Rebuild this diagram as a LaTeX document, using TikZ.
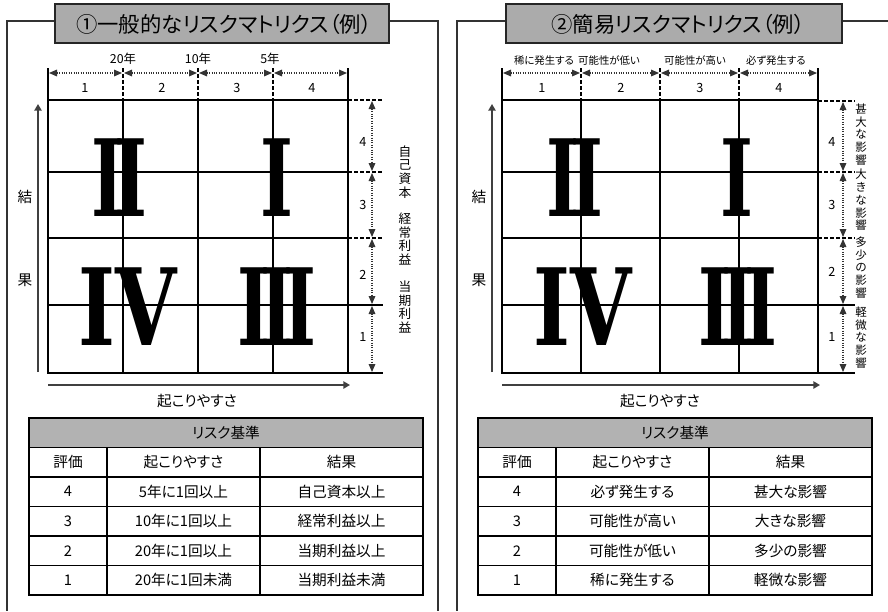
\documentclass[tikz,border=0pt]{standalone}
\usepackage{fontspec}
\setmainfont{Noto Sans CJK JP}[RawFeature=+palt]
\newfontfamily\rnfont{DejaVu Serif}
\usetikzlibrary{arrows.meta}
\newcommand\rnum[2]{\scalebox{#1}[1]{\rnfont\bfseries\fontsize{80}{80}\selectfont #2}}
\newcommand\fs[2]{\fontsize{#1}{#2}\selectfont}
\newcommand\tightlines{\lineskiplimit=-20pt\lineskip=0pt}
\begin{document}
\begin{tikzpicture}[x=0.75pt,y=-0.75pt,
  frame/.style={line width=1.2pt, black!80},
  titlebox/.style={draw=black!85, line width=1.4pt, fill=gray!66},
  heavyline/.style={line width=2.1pt},
  gridline/.style={line width=0.95pt},
  dashtick/.style={line width=1.3pt, dash pattern=on 3pt off 1.5pt},
  extline/.style={line width=0.95pt},
  dimarrow/.style={densely dotted, line width=0.8pt, black!80,
     {Triangle[length=6pt,width=5pt]}-{Triangle[length=6pt,width=5pt]}},
  axisline/.style={line width=1.1pt, black!75, -{Triangle[length=5pt,width=5.5pt]}},
  titletext/.style={font=\fs{16}{18}},
  lbl/.style={font=\fs{11}{13}, inner sep=0pt},
  num/.style={font=\fs{9.5}{11}, inner sep=0pt},
  yr/.style={font=\fs{9.3}{10}, inner sep=0pt},
  small/.style={font=\fs{7.8}{9}, inner sep=0pt},
  vlabA/.style={font=\fs{9.5}{10.4}\tightlines, align=center, inner sep=0pt},
  vlabB/.style={font=\fs{8.6}{9.6}\tightlines, align=center, inner sep=0pt},
  roman/.style={inner sep=0pt},
  tborder/.style={line width=1.6pt},
  tinner/.style={line width=1.1pt},
  theadfill/.style={fill=gray!60},
  cell/.style={font=\fs{11}{13}, inner sep=0pt}
]
\useasboundingbox (0,0) rectangle (888,611);

% ================= LEFT PANEL =================
\draw[frame] (55,21) -- (7,21) -- (7,611);
\draw[frame] (389,21) -- (438,21) -- (438,611);
\draw[titlebox] (55,4) rectangle (389,43);
\node[titletext] (t1) at (224,24) {①一般的なリスクマトリクス（例）};

% matrix
\draw[gridline] (123,100) -- (123,373) (198,100) -- (198,373) (273,100) -- (273,373);
\draw[gridline] (48,172) -- (348,172) (48,238) -- (348,238) (48,305) -- (348,305);
\draw[heavyline] (48,68) -- (48,373) -- (348,373) -- (348,68);
\draw[heavyline] (48,100) -- (348,100);
\draw[dashtick] (123,68) -- (123,100) (198,68) -- (198,100) (273,68) -- (273,100);
\draw[dashtick] (348,100) -- (383,100) (348,172) -- (383,172) (348,238) -- (383,238);
\draw[extline] (348,305) -- (383,305) (348,373) -- (383,373);
% dimension arrows
\draw[dimarrow] (49,73) -- (122,73);
\draw[dimarrow] (124,73) -- (197,73);
\draw[dimarrow] (199,73) -- (272,73);
\draw[dimarrow] (274,73) -- (347,73);
\draw[dimarrow] (372,101) -- (372,171);
\draw[dimarrow] (372,173) -- (372,237);
\draw[dimarrow] (372,239) -- (372,304);
\draw[dimarrow] (372,306) -- (372,372);
% labels
\node[yr] (ya) at (123,59) {20年};
\node[yr] (yb) at (198,59) {10年};
\node[yr] (yc) at (270,59) {5年};
\node[num] (ha1) at (85,88) {1};
\node[num] (ha2) at (162,88) {2};
\node[num] (ha3) at (237,88) {3};
\node[num] (ha4) at (312,88) {4};
\node[num] (va4) at (363,142) {4};
\node[num] (va3) at (363,205) {3};
\node[num] (va2) at (363,275) {2};
\node[num] (va1) at (363,337) {1};
\node[vlabA] (ra) at (405,172) {自\\己\\資\\本};
\node[vlabA] (rb) at (405,239) {経\\常\\利\\益};
\node[vlabA] (rc) at (405,307) {当\\期\\利\\益};
% axes
\draw[axisline] (38,372) -- (38,104);
\draw[axisline] (48,385) -- (350,385);
\node[lbl] (ka) at (25,197) {結};
\node[lbl] (kb) at (25,280) {果};
\node[lbl] (oa) at (197,401) {起こりやすさ};
% roman numerals
\node[roman] (n2a) at (119.5,178) {\rnum{0.66}{I\kern-11pt I}};
\node[roman] (n1a) at (277,178) {\rnum{0.66}{I}};
\node[roman] (n4a) at (127.5,307) {\rnum{0.74}{IV}};
\node[roman] (n3a) at (277,307) {\rnum{0.66}{I\kern-11pt I\kern-11pt I}};

% table left
\fill[theadfill] (29,418) rectangle (423,447.5);
\draw[tinner] (29,447.5) -- (423,447.5) (29,477) -- (423,477) (29,506.5) -- (423,506.5)
  (29,536) -- (423,536) (29,565.5) -- (423,565.5);
\draw[tinner] (107,447.5) -- (107,595) (260,447.5) -- (260,595);
\draw[tborder] (29,418) rectangle (423,595);
\node[cell] (lh) at (226,432.75) {リスク基準};
\node[cell] (lc1) at (68,462.25) {評価};
\node[cell] (lc2) at (183.5,462.25) {起こりやすさ};
\node[cell] (lc3) at (341.5,462.25) {結果};
\node[cell] (l41) at (68,491.75) {4};
\node[cell] (l42) at (183.5,491.75) {5年に1回以上};
\node[cell] (l43) at (341.5,491.75) {自己資本以上};
\node[cell] (l31) at (68,521.25) {3};
\node[cell] (l32) at (183.5,521.25) {10年に1回以上};
\node[cell] (l33) at (341.5,521.25) {経常利益以上};
\node[cell] (l21) at (68,550.75) {2};
\node[cell] (l22) at (183.5,550.75) {20年に1回以上};
\node[cell] (l23) at (341.5,550.75) {当期利益以上};
\node[cell] (l11) at (68,580.25) {1};
\node[cell] (l12) at (183.5,580.25) {20年に1回未満};
\node[cell] (l13) at (341.5,580.25) {当期利益未満};

% ================= RIGHT PANEL =================
\draw[frame] (506,21) -- (457,21) -- (457,611);
\draw[frame] (842,21) -- (888,21);
\draw[titlebox] (506,4) rectangle (842,43);
\node[titletext] (t2) at (678,24) {②簡易リスクマトリクス（例）};

\draw[gridline] (581,100) -- (581,373) (660,100) -- (660,373) (739,100) -- (739,373);
\draw[gridline] (502,172) -- (818,172) (502,238) -- (818,238) (502,305) -- (818,305);
\draw[heavyline] (502,68) -- (502,373) -- (818,373) -- (818,68);
\draw[heavyline] (502,100) -- (818,100);
\draw[dashtick] (581,68) -- (581,100) (660,68) -- (660,100) (739,68) -- (739,100);
\draw[dashtick] (818,101) -- (855,101) (818,172) -- (855,172) (818,238) -- (855,238);
\draw[extline] (818,305) -- (855,305) (818,373) -- (855,373);
\draw[dimarrow] (503,73) -- (580,73);
\draw[dimarrow] (582,73) -- (659,73);
\draw[dimarrow] (661,73) -- (738,73);
\draw[dimarrow] (740,73) -- (817,73);
\draw[dimarrow] (843,102) -- (843,171);
\draw[dimarrow] (843,173) -- (843,237);
\draw[dimarrow] (843,239) -- (843,304);
\draw[dimarrow] (843,306) -- (843,372);
\node[small] (sa) at (544,61) {稀に発生する};
\node[small] (sb) at (609,61) {可能性が低い};
\node[small] (sc) at (695,61) {可能性が高い};
\node[small] (sd) at (776,61) {必ず発生する};
\node[num] (hb1) at (542,88) {1};
\node[num] (hb2) at (621,88) {2};
\node[num] (hb3) at (700,88) {3};
\node[num] (hb4) at (779,88) {4};
\node[num] (vb4) at (832,142) {4};
\node[num] (vb3) at (832,205) {3};
\node[num] (vb2) at (832,272) {2};
\node[num] (vb1) at (832,337) {1};
\node[vlabB] (qa) at (861,134.5) {甚\\大\\な\\影\\響};
\node[vlabB] (qb) at (861,200) {大\\き\\な\\影\\響};
\node[vlabB] (qc) at (861,267.5) {多\\少\\の\\影\\響};
\node[vlabB] (qd) at (861,337.5) {軽\\微\\な\\影\\響};
\draw[axisline] (492,372) -- (492,104);
\draw[axisline] (502,385) -- (820,385);
\node[lbl] (kc) at (479,197) {結};
\node[lbl] (kd) at (479,280) {果};
\node[lbl] (ob) at (660,401) {起こりやすさ};
\node[roman] (n2b) at (575,178) {\rnum{0.66}{I\kern-11pt I}};
\node[roman] (n1b) at (737,178) {\rnum{0.66}{I}};
\node[roman] (n4b) at (583,307) {\rnum{0.74}{IV}};
\node[roman] (n3b) at (738,307) {\rnum{0.66}{I\kern-11pt I\kern-11pt I}};

% table right
\fill[theadfill] (478,418) rectangle (872,447.5);
\draw[tinner] (478,447.5) -- (872,447.5) (478,477) -- (872,477) (478,506.5) -- (872,506.5)
  (478,536) -- (872,536) (478,565.5) -- (872,565.5);
\draw[tinner] (556,447.5) -- (556,595) (709,447.5) -- (709,595);
\draw[tborder] (478,418) rectangle (872,595);
\node[cell] (rh) at (675,432.75) {リスク基準};
\node[cell] (rc1) at (517,462.25) {評価};
\node[cell] (rc2) at (632.5,462.25) {起こりやすさ};
\node[cell] (rc3) at (790.5,462.25) {結果};
\node[cell] (r41) at (517,491.75) {4};
\node[cell] (r42) at (632.5,491.75) {必ず発生する};
\node[cell] (r43) at (790.5,491.75) {甚大な影響};
\node[cell] (r31) at (517,521.25) {3};
\node[cell] (r32) at (632.5,521.25) {可能性が高い};
\node[cell] (r33) at (790.5,521.25) {大きな影響};
\node[cell] (r21) at (517,550.75) {2};
\node[cell] (r22) at (632.5,550.75) {可能性が低い};
\node[cell] (r23) at (790.5,550.75) {多少の影響};
\node[cell] (r11) at (517,580.25) {1};
\node[cell] (r12) at (632.5,580.25) {稀に発生する};
\node[cell] (r13) at (790.5,580.25) {軽微な影響};
\end{tikzpicture}
\end{document}
